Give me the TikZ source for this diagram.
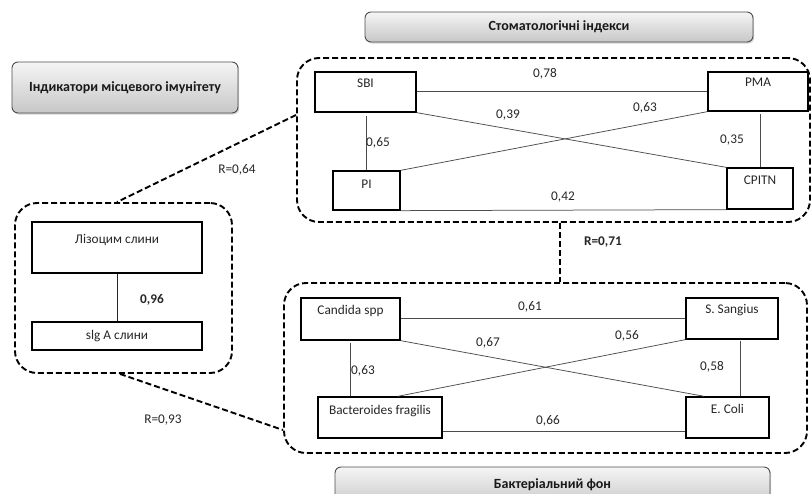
\documentclass[tikz,border=0pt]{standalone}
\usepackage{fontspec}
\setmainfont{Carlito}
\usetikzlibrary{shadows}
\tikzset{
  txt/.style={font=\fontsize{13.3}{16}\selectfont, text=black!85, inner sep=1pt},
  btxt/.style={txt, font=\fontsize{13.3}{16}\selectfont\bfseries},
  title/.style={draw=black!70, line width=0.9pt, rounded corners=6pt,
    top color=white!96!black, bottom color=black!22,
    drop shadow={shadow xshift=1.2pt, shadow yshift=-1.5pt, opacity=0.35},
    font=\fontsize{14}{16}\selectfont\bfseries, text=black!90},
  container/.style={draw, line width=1.9pt, dash pattern=on 6pt off 3pt,
    rounded corners=22pt},
  link/.style={draw, line width=1.9pt, dash pattern=on 6pt off 3pt},
  vbox/.style={draw, line width=1.3pt, inner sep=0pt},
  conn/.style={draw=black!70, line width=0.75pt}
}
\begin{document}
\begin{tikzpicture}[x=1pt,y=-1pt]
\useasboundingbox (0,0) rectangle (811,493);

% title boxes
\node[title, minimum width=388pt, minimum height=30pt] (tTop) at (559,27) {Стоматологічні індекси};
\node[title, minimum width=226pt, minimum height=51pt] (tLeft) at (125,87.5) {Індикатори місцевого імунітету};
\node[title, minimum width=435pt, minimum height=40pt, text depth=0pt] (tBot) at (552.5,487) {\raisebox{6pt}{Бактеріальний фон}};

% containers
\node[container, minimum width=513pt, minimum height=164pt] (topC) at (553.5,140) {};
\node[container, minimum width=217pt, minimum height=170pt] (leftC) at (123.5,288) {};
\node[container, minimum width=523pt, minimum height=170pt] (botC) at (545.5,368) {};

% dashed links between containers
\draw[link] ([yshift=25pt]topC.west) -- ([xshift=-6.5pt]leftC.north);
\draw[link] ([xshift=-3.5pt]leftC.south) -- ([yshift=-62pt]botC.west);
\draw[link] ([xshift=6.5pt]topC.south) -- ([xshift=6.5pt]topC.south |- botC.north);

% top group boxes
\node[vbox, minimum width=101pt, minimum height=40pt, label={[txt, anchor=mid, yshift=-14pt]north:SBI}] (SBI) at (365.5,92) {};
\node[vbox, minimum width=100pt, minimum height=39pt, label={[txt, anchor=mid, yshift=-13pt]north:PMA}] (PMA) at (758,91.5) {};
\node[vbox, minimum width=67pt, minimum height=39pt, label={[txt, anchor=mid, yshift=-16pt]north:PI}] (PI) at (366.5,190.5) {};
\node[vbox, minimum width=66pt, minimum height=41pt, label={[txt, anchor=mid, yshift=-15pt]north:CPITN}] (CPITN) at (760,188.5) {};

% left group boxes
\node[vbox, minimum width=170pt, minimum height=51pt, label={[txt, anchor=mid, yshift=-20pt]north:Лізоцим слини}] (Lys) at (117,247.5) {};
\node[vbox, minimum width=170pt, minimum height=28pt, label={[txt, anchor=mid]center:slg A слини}] (slg) at (117,336) {};

% bottom group boxes
\node[vbox, minimum width=99pt, minimum height=42pt, label={[txt, anchor=mid, yshift=-15pt]north:Candida spp}] (Cand) at (350.5,319) {};
\node[vbox, minimum width=92pt, minimum height=41pt, label={[txt, anchor=mid, yshift=-14pt]north:S. Sangius}] (Sang) at (732,318.5) {};
\node[vbox, minimum width=124pt, minimum height=41pt, label={[txt, anchor=mid, yshift=-16pt]north:Bacteroides fragilis}] (Bact) at (380,417.5) {};
\node[vbox, minimum width=83pt, minimum height=41pt, label={[txt, anchor=mid, yshift=-15pt]north:E. Coli}] (Ecoli) at (727.5,417.5) {};

% top connectors
\draw[conn] (SBI.east |- PMA.west) -- (PMA.west);
\draw[conn] (SBI.south east) -- (CPITN.north west);
\draw[conn] (PMA.south west) -- (PI.north east);
\draw[conn] (PI.north) -- ([yshift=-3pt]PI.north |- SBI.south);
\draw[conn] (CPITN.north) -- ([yshift=-2pt]CPITN.north |- PMA.south);
\draw[conn] (PI.south east) -- (CPITN.south west);

% left connector
\draw[conn, line width=1pt, draw=black!85] (Lys.south) -- (slg.north);

% bottom connectors
\draw[conn] (Cand.east |- Sang.west) -- (Sang.west);
\draw[conn] (Cand.south east) -- ([xshift=19pt]Ecoli.north west);
\draw[conn] (Sang.south west) -- ([xshift=-45pt]Bact.north east);
\draw[conn] ([yshift=-2pt]Cand.south) -- (Cand.south |- Bact.north);
\draw[conn] ([xshift=8pt,yshift=-1pt]Sang.south) -- ([xshift=8pt]Sang.south |- Ecoli.north);
\draw[conn] ([yshift=7pt]Bact.south east) -- ([yshift=7pt]Ecoli.south west);

% coefficient labels
\node[txt] (l78) at (545,74) {0,78};
\node[txt] (l39) at (508,115) {0,39};
\node[txt] (l63a) at (645,108) {0,63};
\node[txt] (l65) at (378,143) {0,65};
\node[txt] (l35) at (732,140) {0,35};
\node[txt] (l42) at (563,197) {0,42};
\node[txt] (R64) at (237,170) {R=0,64};
\node[btxt] (R71) at (603,242) {R=0,71};
\node[btxt] (l96) at (152,300) {0,96};
\node[txt] (R93) at (163,420) {R=0,93};
\node[txt] (l61) at (530,307) {0,61};
\node[txt] (l67) at (488,343) {0,67};
\node[txt] (l56) at (627,336) {0,56};
\node[txt] (l63b) at (363,371) {0,63};
\node[txt] (l58) at (712,367) {0,58};
\node[txt] (l66) at (548,421) {0,66};
\end{tikzpicture}
\end{document}
